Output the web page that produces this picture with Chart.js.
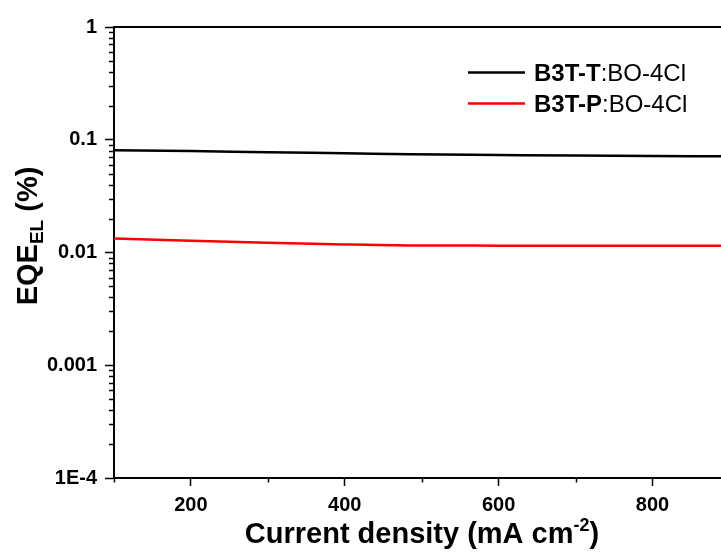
<!DOCTYPE html>
<html>
<head>
<meta charset="utf-8">
<script src="https://cdn.jsdelivr.net/npm/chart.js@4.4.1/dist/chart.umd.min.js"></script>
<style>
  html, body { margin: 0; padding: 0; background: #fff; }
  #wrap { width: 721px; height: 559px; position: relative; }
</style>
</head>
<body>
<div id="wrap"><canvas id="eqeChart"></canvas></div>
<script>
// current density (mA cm-2)
const currentDensity = [100, 200, 300, 400, 485, 600, 700, 800, 889];
// EQE_EL (%)
const eqeB3TT = [0.0807, 0.0796, 0.0774, 0.0759, 0.0744, 0.0733, 0.0724, 0.0718, 0.0714];
const eqeB3TP = [0.0133, 0.0127, 0.0122, 0.0118, 0.01156, 0.0115, 0.01146, 0.01146, 0.0115];

const seriesNames = ['B3T-T', 'B3T-P'];
const seriesSuffix = ':BO-4Cl';
const seriesColors = ['#000000', '#ff0000'];

const xMajorTicks = [200, 400, 600, 800];
const xMinorTicks = [100, 300, 500, 700];
const yMajorTicks = [1e-4, 1e-3, 1e-2, 1e-1, 1];
const yTickLabels = ['1E-4', '0.001', '0.01', '0.1', '1'];

const FONT = '"Liberation Sans", Arial, sans-serif';

function yMinorTicks() {
    const out = [];
    for (let e = -4; e < 0; e++) {
        for (let m = 2; m <= 9; m++) out.push(m * Math.pow(10, e));
    }
    return out;
}

const toPoints = (ys) => currentDensity.map((x, i) => ({ x: x, y: ys[i] }));

// minor ticks, top frame line, legend and axis titles
const decorations = {
    id: 'decorations',
    afterDraw(chart) {
        const ctx = chart.ctx;
        const area = chart.chartArea;
        const xs = chart.scales.x;
        const ys = chart.scales.y;
        ctx.save();
        ctx.strokeStyle = '#000';
        ctx.lineWidth = 2;

        // top frame
        ctx.beginPath();
        ctx.moveTo(area.left, area.top);
        ctx.lineTo(area.right, area.top);
        ctx.stroke();

        // minor ticks
        ctx.lineWidth = 1.5;
        xMinorTicks.forEach(v => {
            const px = Math.round(xs.getPixelForValue(v)) + 0.5;
            ctx.beginPath();
            ctx.moveTo(px, area.bottom);
            ctx.lineTo(px, area.bottom + 4.5);
            ctx.stroke();
        });
        yMinorTicks().forEach(v => {
            const py = Math.round(ys.getPixelForValue(v)) + 0.5;
            ctx.beginPath();
            ctx.moveTo(area.left, py);
            ctx.lineTo(area.left - 5, py);
            ctx.stroke();
        });

        // legend
        const legendY = [72.5, 103.5];
        ctx.textBaseline = 'alphabetic';
        ctx.textAlign = 'left';
        seriesNames.forEach((name, i) => {
            ctx.strokeStyle = seriesColors[i];
            ctx.lineWidth = 2.5;
            ctx.beginPath();
            ctx.moveTo(468, legendY[i]);
            ctx.lineTo(525, legendY[i]);
            ctx.stroke();
            ctx.fillStyle = '#000';
            ctx.font = 'bold 24px ' + FONT;
            ctx.fillText(name, 534, legendY[i] + 8.5);
            const w = ctx.measureText(name).width;
            ctx.font = '24px ' + FONT;
            ctx.fillText(seriesSuffix, 534 + w, legendY[i] + 8.5);
        });

        // x title with superscript
        ctx.fillStyle = '#000';
        const main = 'Current density (mA cm';
        const sup = '-2';
        const close = ')';
        ctx.font = 'bold 29px ' + FONT;
        const wMain = ctx.measureText(main).width;
        const wClose = ctx.measureText(close).width;
        ctx.font = 'bold 18px ' + FONT;
        const wSup = ctx.measureText(sup).width;
        let x0 = 422 - (wMain + wSup + wClose) / 2;
        const base = 543;
        ctx.font = 'bold 29px ' + FONT;
        ctx.fillText(main, x0, base);
        ctx.font = 'bold 18px ' + FONT;
        ctx.fillText(sup, x0 + wMain, base - 12);
        ctx.font = 'bold 29px ' + FONT;
        ctx.fillText(close, x0 + wMain + wSup, base);

        // y title with subscript, rotated
        ctx.translate(37, 236);
        ctx.rotate(-Math.PI / 2);
        const a = 'EQE', sub = 'EL', b = ' (%)';
        ctx.font = 'bold 29px ' + FONT;
        const wa = ctx.measureText(a).width;
        const wb = ctx.measureText(b).width;
        ctx.font = 'bold 19px ' + FONT;
        const wsub = ctx.measureText(sub).width;
        let t0 = -(wa + wsub + wb) / 2;
        ctx.font = 'bold 29px ' + FONT;
        ctx.fillText(a, t0, 0);
        ctx.font = 'bold 19px ' + FONT;
        ctx.fillText(sub, t0 + wa, 6);
        ctx.font = 'bold 29px ' + FONT;
        ctx.fillText(b, t0 + wa + wsub, 0);

        ctx.restore();
    }
};

new Chart(document.getElementById('eqeChart'), {
    type: 'line',
    data: {
        datasets: [
            {
                label: seriesNames[0] + seriesSuffix,
                data: toPoints(eqeB3TT),
                borderColor: seriesColors[0],
                borderWidth: 2.5,
                pointRadius: 0,
                cubicInterpolationMode: 'monotone',
                fill: false
            },
            {
                label: seriesNames[1] + seriesSuffix,
                data: toPoints(eqeB3TP),
                borderColor: seriesColors[1],
                borderWidth: 2.5,
                pointRadius: 0,
                cubicInterpolationMode: 'monotone',
                fill: false
            }
        ]
    },
    options: {
        responsive: true,
        maintainAspectRatio: false,
        animation: false,
        layout: { padding: { top: 27, right: 0, left: 0, bottom: 0 } },
        plugins: {
            legend: { display: false },
            tooltip: { enabled: false }
        },
        scales: {
            x: {
                type: 'linear',
                min: 100,
                max: 889,
                afterBuildTicks: (scale) => {
                    scale.ticks = xMajorTicks.map(v => ({ value: v }));
                },
                afterFit: (scale) => { scale.height = 81; },
                border: { color: '#000', width: 2 },
                grid: {
                    drawOnChartArea: false,
                    tickLength: 8,
                    tickWidth: 1.5,
                    tickColor: '#000'
                },
                ticks: {
                    padding: 7,
                    color: '#000',
                    font: { family: FONT, size: 20, weight: 'bold' },
                    maxRotation: 0,
                    autoSkip: false
                }
            },
            y: {
                type: 'logarithmic',
                min: 1e-4,
                max: 1,
                afterBuildTicks: (scale) => {
                    scale.ticks = yMajorTicks.map(v => ({ value: v }));
                },
                afterFit: (scale) => { scale.width = 114; },
                border: { color: '#000', width: 2 },
                grid: {
                    drawOnChartArea: false,
                    tickLength: 9,
                    tickWidth: 1.5,
                    tickColor: '#000'
                },
                ticks: {
                    padding: 8,
                    color: '#000',
                    autoSkip: false,
                    font: { family: FONT, size: 20, weight: 'bold' },
                    callback: (value) => {
                        const i = yMajorTicks.findIndex(t => Math.abs(Math.log10(t) - Math.log10(value)) < 1e-6);
                        return i >= 0 ? yTickLabels[i] : '';
                    }
                }
            }
        }
    },
    plugins: [decorations]
});
</script>
</body>
</html>
